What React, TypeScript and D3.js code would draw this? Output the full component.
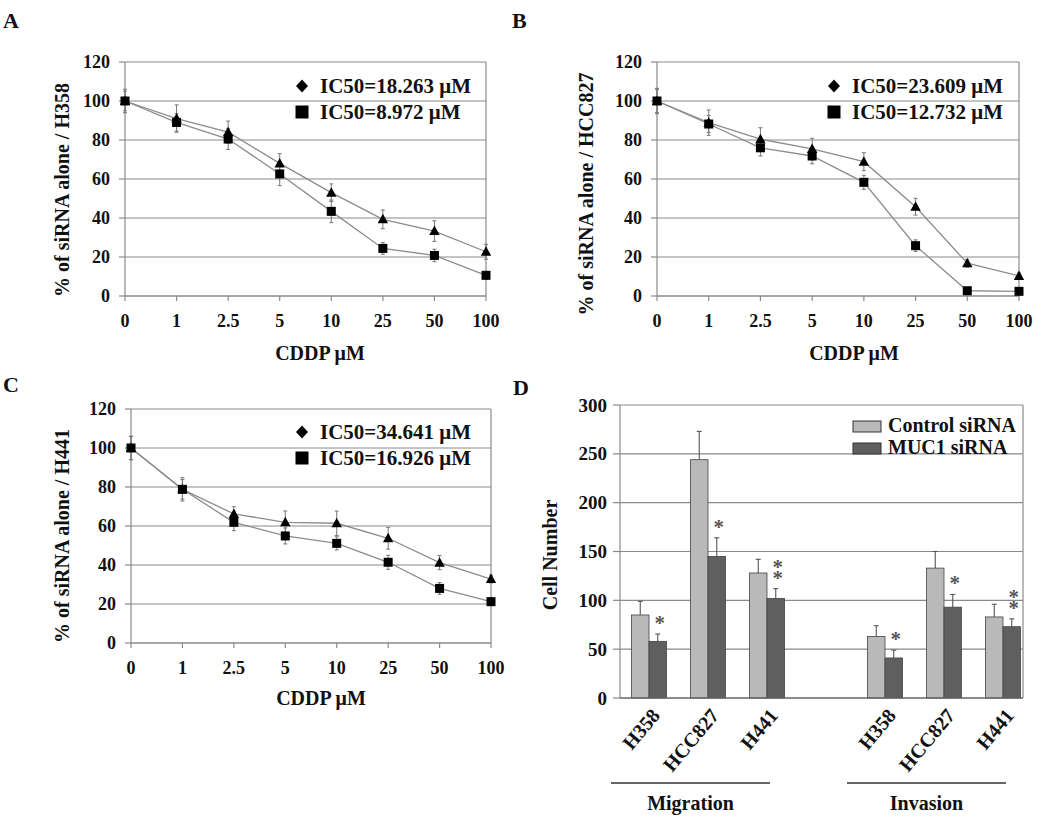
import React from 'react';
import * as d3 from 'd3';

// ---------- data: dose-response panels ----------
const doses = ['0', '1', '2.5', '5', '10', '25', '50', '100'];
const lineYTicks = [0, 20, 40, 60, 80, 100, 120];

const aTriangle = [100, 91, 84, 68, 53, 39.3, 33.3, 22.7];
const aTriangleErr = [6, 7, 5.7, 5, 4.5, 4.8, 5.3, 3.8];
const aSquare = [100, 89, 80.5, 62.6, 43.4, 24.4, 20.8, 10.6];
const aSquareErr = [5, 4.5, 5.3, 6, 5.8, 3, 3.2, 2];

const bTriangle = [100, 88.9, 80.4, 75.4, 68.9, 45.8, 16.8, 10.3];
const bTriangleErr = [6.5, 6.5, 5.9, 5.5, 4.6, 4.3, 2, 1.5];
const bSquare = [100, 88.2, 76, 71.8, 58.3, 25.8, 2.7, 2.4];
const bSquareErr = [6, 4.4, 4.2, 4, 3.6, 3, 1, 1];

const cTriangle = [100, 78.8, 66.2, 61.9, 61.4, 53.7, 41.2, 32.8];
const cTriangleErr = [6, 6, 3.7, 5.8, 6.3, 5.6, 3.6, 2];
const cSquare = [100, 78.8, 61.9, 54.9, 51.1, 41.4, 28, 21.2];
const cSquareErr = [6, 5, 4.3, 4.1, 3.4, 3.6, 3, 2];

// ---------- data: migration / invasion panel ----------
const cellLines = ['H358', 'HCC827', 'H441'];
const assays = ['Migration', 'Invasion'];
const controlMigration = [85, 244, 128];
const controlMigrationErr = [14, 29, 14];
const muc1Migration = [58, 145, 102];
const muc1MigrationErr = [7.5, 19, 10];
const controlInvasion = [63, 133, 83];
const controlInvasionErr = [11, 17, 13];
const muc1Invasion = [41, 93, 73];
const muc1InvasionErr = [8, 13, 8];
const significance = ['*', '*', '**'];
const barYTicks = [0, 50, 100, 150, 200, 250, 300];
const seriesNames = ['Control siRNA', 'MUC1 siRNA'];

const FONT = "'Liberation Serif', 'Times New Roman', Times, serif";
const GRID = '#8a8a8a';

const triPath = 'M0,-5.5L5.2,4L-5.2,4Z';

function LinePanel(p: any) {
  const x = d3.scalePoint<string>().domain(doses).range([p.left, p.right]);
  const y = d3.scaleLinear().domain([0, 120]).range([p.bottom, p.top]);
  const line = d3
    .line<number>()
    .x((_, i) => x(doses[i]) as number)
    .y((d) => y(d));
  const series = [
    { v: p.tri, e: p.triErr, kind: 'tri' },
    { v: p.sq, e: p.sqErr, kind: 'sq' },
  ];
  return (
    <g fontFamily={FONT} fontWeight="bold" fill="#111">
      {lineYTicks.map((t) => (
        <g key={t}>
          {t > 0 && (
            <line x1={p.left} x2={p.right} y1={y(t)} y2={y(t)} stroke={GRID} strokeWidth={1.2} />
          )}
          <line x1={p.left - 6} x2={p.left} y1={y(t)} y2={y(t)} stroke={GRID} strokeWidth={1.2} />
          <text x={p.left - 15} y={y(t)} dy="0.35em" textAnchor="end" fontSize={18}>
            {t}
          </text>
        </g>
      ))}
      <line x1={p.left} x2={p.left} y1={p.top} y2={p.bottom} stroke={GRID} strokeWidth={1.2} />
      <line x1={p.right} x2={p.right} y1={p.top} y2={p.bottom} stroke={GRID} strokeWidth={1.2} />
      <line x1={p.left} x2={p.right} y1={p.bottom} y2={p.bottom} stroke={GRID} strokeWidth={1.4} />
      {doses.map((d) => (
        <g key={d}>
          <line x1={x(d)} x2={x(d)} y1={p.bottom} y2={p.bottom + 5} stroke={GRID} strokeWidth={1.2} />
          <text x={x(d)} y={p.bottom + 31} textAnchor="middle" fontSize={18}>
            {d}
          </text>
        </g>
      ))}
      {series.map((s) => (
        <path key={s.kind} d={line(s.v) as string} fill="none" stroke="#8c8c8c" strokeWidth={1.3} />
      ))}
      {series.map((s) =>
        s.v.map((v: number, i: number) => {
          const cx = x(doses[i]) as number;
          return (
            <g key={s.kind + i} stroke="#777" strokeWidth={1}>
              <line x1={cx} x2={cx} y1={y(v + s.e[i])} y2={y(v - s.e[i])} />
              <line x1={cx - 2} x2={cx + 2} y1={y(v + s.e[i])} y2={y(v + s.e[i])} />
              <line x1={cx - 2} x2={cx + 2} y1={y(v - s.e[i])} y2={y(v - s.e[i])} />
            </g>
          );
        })
      )}
      {series.map((s) =>
        s.v.map((v: number, i: number) => {
          const cx = x(doses[i]) as number;
          return s.kind === 'tri' ? (
            <path key={'m' + s.kind + i} d={triPath} transform={`translate(${cx},${y(v)})`} fill="#000" />
          ) : (
            <rect key={'m' + s.kind + i} x={cx - 4.5} y={y(v) - 4.5} width={9} height={9} fill="#000" />
          );
        })
      )}
      {/* legend */}
      <path
        d="M0,-6.5L6,0L0,6.5L-6,0Z"
        transform={`translate(${p.legendX},${p.legendY})`}
        fill="#000"
      />
      <text x={p.legendX + 18} y={p.legendY + 7} fontSize={21}>
        {p.legend1}
      </text>
      <rect x={p.legendX - 6.5} y={p.legendY + 26 - 6.5} width={13} height={13} fill="#000" />
      <text x={p.legendX + 18} y={p.legendY + 26 + 7} fontSize={21}>
        {p.legend2}
      </text>
      <text
        transform={`translate(${p.yTitleX},${p.yTitleY}) rotate(-90)`}
        dy="0.35em"
        textAnchor="middle"
        fontSize={20}
      >
        {p.yTitle}
      </text>
      <text x={p.xTitleX} y={p.xTitleY} textAnchor="middle" fontSize={20}>
        CDDP μM
      </text>
    </g>
  );
}

function BarPanel() {
  const left = 620;
  const right = 1023;
  const top = 405;
  const bottom = 698;
  const slots = ['M0', 'M1', 'M2', 'gap', 'I0', 'I1', 'I2'];
  const x = d3.scaleBand<string>().domain(slots).range([619.5, 1032.5]).padding(0);
  const bw = x.bandwidth();
  const inner = d3
    .scaleBand<string>()
    .domain(['control', 'muc1'])
    .range([bw / 2 - 17.5, bw / 2 + 17.5])
    .padding(0);
  const y = d3.scaleLinear().domain([0, 300]).range([bottom, top]);

  const groups = [
    { prefix: 'M', ctrl: controlMigration, ctrlE: controlMigrationErr, muc: muc1Migration, mucE: muc1MigrationErr },
    { prefix: 'I', ctrl: controlInvasion, ctrlE: controlInvasionErr, muc: muc1Invasion, mucE: muc1InvasionErr },
  ];
  const colors: Record<string, string> = { control: '#b9b9b9', muc1: '#5f5f5f' };

  return (
    <g fontFamily={FONT} fontWeight="bold" fill="#111">
      {barYTicks.map((t) => (
        <g key={t}>
          {t > 0 && <line x1={left} x2={right} y1={y(t)} y2={y(t)} stroke={GRID} strokeWidth={1.2} />}
          <line x1={left - 7} x2={left} y1={y(t)} y2={y(t)} stroke={GRID} strokeWidth={1.2} />
          <text x={left - 13} y={y(t)} dy="0.35em" textAnchor="end" fontSize={19}>
            {t}
          </text>
        </g>
      ))}
      <line x1={left} x2={left} y1={top} y2={bottom} stroke={GRID} strokeWidth={1.2} />
      <line x1={right} x2={right} y1={top} y2={bottom} stroke={GRID} strokeWidth={1.2} />
      {groups.map((g) =>
        cellLines.map((c, i) => {
          const slot = g.prefix + i;
          const x0 = x(slot) as number;
          const bars = [
            { k: 'control', v: g.ctrl[i], e: g.ctrlE[i] },
            { k: 'muc1', v: g.muc[i], e: g.mucE[i] },
          ];
          const mucCx = x0 + (inner('muc1') as number) + inner.bandwidth() / 2;
          const mucTop = y(g.muc[i] + g.mucE[i]);
          const stars = significance[i].split('');
          const n = stars.length;
          return (
            <g key={slot}>
              {bars.map((b) => {
                const bx = x0 + (inner(b.k) as number);
                const cx = bx + inner.bandwidth() / 2;
                return (
                  <g key={b.k}>
                    <line x1={cx} x2={cx} y1={y(b.v)} y2={y(b.v + b.e)} stroke="#555" strokeWidth={1.1} />
                    <line x1={cx - 2.5} x2={cx + 2.5} y1={y(b.v + b.e)} y2={y(b.v + b.e)} stroke="#555" strokeWidth={1.1} />
                    <rect
                      x={bx}
                      y={y(b.v)}
                      width={inner.bandwidth()}
                      height={bottom - y(b.v)}
                      fill={colors[b.k]}
                      stroke="#444"
                      strokeWidth={0.8}
                    />
                  </g>
                );
              })}
              <text textAnchor="middle" fontSize={21} fill="#555">
                {stars.map((s, j) => (
                  <tspan
                    key={j}
                    x={mucCx + 2}
                    y={mucTop - 4 - (n - 1 - j) * 11}
                  >
                    {s}
                  </tspan>
                ))}
              </text>
              <text
                transform={`translate(${x0 + bw / 2 + 12},716) rotate(-50)`}
                textAnchor="end"
                fontSize={20}
              >
                {c}
              </text>
            </g>
          );
        })
      )}
      <line x1={left} x2={right} y1={bottom} y2={bottom} stroke="#666" strokeWidth={1.5} />
      {assays.map((a, gi) => {
        const p = gi === 0 ? 'M' : 'I';
        const c0 = (x(p + '0') as number) + bw / 2;
        const c2 = (x(p + '2') as number) + bw / 2;
        const x1 = c0 - 38;
        const x2 = c2 + 3;
        return (
          <g key={a}>
            <line x1={x1} x2={x2} y1={783} y2={783} stroke="#333" strokeWidth={1.6} />
            <text x={(x1 + x2) / 2} y={810} textAnchor="middle" fontSize={20}>
              {a}
            </text>
          </g>
        );
      })}
      {/* legend */}
      {seriesNames.map((n, i) => (
        <g key={n}>
          <rect
            x={853}
            y={421 + i * 22}
            width={28}
            height={11}
            fill={i === 0 ? colors.control : colors.muc1}
            stroke="#333"
            strokeWidth={1}
          />
          <text x={888} y={432 + i * 22} fontSize={20}>
            {n}
          </text>
        </g>
      ))}
      <text transform="translate(550,555) rotate(-90)" dy="0.35em" textAnchor="middle" fontSize={20}>
        Cell Number
      </text>
    </g>
  );
}

export default function App() {
  return (
    <svg
      width={1050}
      height={819}
      style={{ position: 'absolute', left: 0, top: 0, display: 'block', background: '#fff' }}
    >
      <rect width={1050} height={819} fill="#fff" />
      <g fontFamily={FONT} fontWeight="bold" fontSize={22} fill="#111">
        <text x={3} y={28}>A</text>
        <text x={512} y={28}>B</text>
        <text x={3} y={392}>C</text>
        <text x={513} y={395}>D</text>
      </g>
      <LinePanel
        left={125}
        right={486}
        top={62}
        bottom={296}
        tri={aTriangle}
        triErr={aTriangleErr}
        sq={aSquare}
        sqErr={aSquareErr}
        yTitle="% of siRNA alone / H358"
        yTitleX={62}
        yTitleY={190}
        xTitleX={320}
        xTitleY={360}
        legendX={302}
        legendY={86}
        legend1="IC50=18.263 μM"
        legend2="IC50=8.972 μM"
      />
      <LinePanel
        left={657}
        right={1019}
        top={62}
        bottom={296}
        tri={bTriangle}
        triErr={bTriangleErr}
        sq={bSquare}
        sqErr={bSquareErr}
        yTitle="% of siRNA alone / HCC827"
        yTitleX={586}
        yTitleY={194}
        xTitleX={854}
        xTitleY={360}
        legendX={834}
        legendY={86}
        legend1="IC50=23.609 μM"
        legend2="IC50=12.732 μM"
      />
      <LinePanel
        left={131}
        right={491}
        top={409}
        bottom={643}
        tri={cTriangle}
        triErr={cTriangleErr}
        sq={cSquare}
        sqErr={cSquareErr}
        yTitle="% of siRNA alone / H441"
        yTitleX={62}
        yTitleY={536}
        xTitleX={321}
        xTitleY={705}
        legendX={302}
        legendY={432}
        legend1="IC50=34.641 μM"
        legend2="IC50=16.926 μM"
      />
      <BarPanel />
    </svg>
  );
}
